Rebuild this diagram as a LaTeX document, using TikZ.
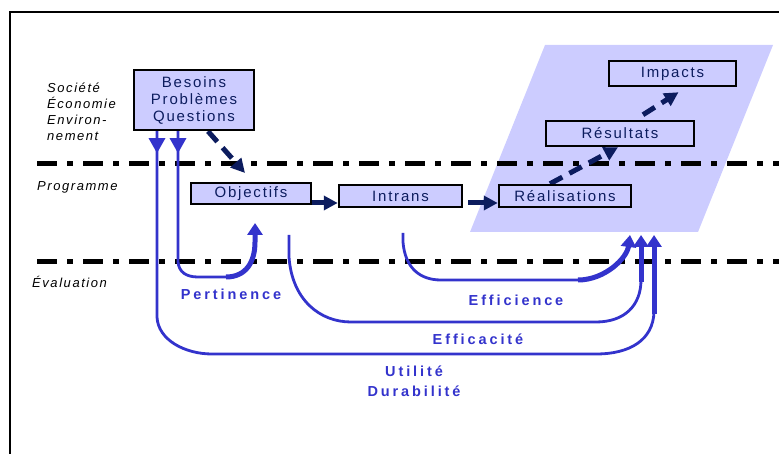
\documentclass[tikz,border=0pt]{standalone}
\usepackage{fontspec}
\setmainfont{Liberation Sans}
\newfontfamily\boitefont[LetterSpace=12]{Liberation Sans}
\newfontfamily\etiqfont[LetterSpace=20]{Liberation Sans}
\usetikzlibrary{arrows.meta,positioning}
\pgfdeclarelayer{fond}
\pgfdeclarelayer{arriere}
\pgfsetlayers{fond,arriere,main}
\definecolor{lavande}{HTML}{CCCCFF}
\definecolor{bleu}{HTML}{3333CC}
\definecolor{marine}{HTML}{0C1C5E}
\tikzset{
  boite/.style={draw=black,line width=2.5pt,fill=lavande,text=marine,
    font=\boitefont\fontsize{15}{17}\selectfont,inner sep=0pt,align=center},
  pointille/.style={line width=5pt,dash pattern=on 20pt off 10pt on 6pt off 10pt},
  flux/.style={marine,line width=5pt,-{Triangle[length=14pt,width=14pt]}},
  fluxpt/.style={flux,dash pattern=on 14pt off 8pt},
  lien/.style={bleu,line width=2.8pt},
  fleche/.style={bleu,line width=5pt,-{Triangle[length=12pt,width=15pt]}},
  niveau/.style={font=\boitefont\itshape\fontsize{13}{16}\selectfont,anchor=north west,align=left,inner sep=0pt},
  critere/.style={bleu,font=\etiqfont\bfseries\fontsize{14.5}{20}\selectfont,align=center}
}

\begin{document}
\begin{tikzpicture}[x=1pt,y=-1pt]
\useasboundingbox (0,0) rectangle (779,454);
% cadre
\draw[line width=2pt] (779,12) -- (10,12) -- (10,454);

% boites
\node[boite,minimum width=120pt,minimum height=60pt] (besoins) at (194,100) {Besoins\\Problèmes\\Questions};
\node[boite,minimum width=120pt,minimum height=21pt] (objectifs) at (251,193.5) {Objectifs};
\node[boite,minimum width=123pt,minimum height=22pt] (intrans) at (400.5,196) {Intrans};
\node[boite,minimum width=132pt,minimum height=22pt] (realisations) at (565,196) {Réalisations};
\node[boite,minimum width=148pt,minimum height=25pt] (resultats) at (620,133.5) {Résultats};
\node[boite,minimum width=127pt,minimum height=25pt] (impacts) at (672.5,73.5) {Impacts};

% niveaux
\node[niveau] (societe) at (47,83) {Société\\Économie\\Environ-\\nement};
\node[niveau,anchor=west] (programme) at (37,187) {Programme};
\node[niveau,anchor=west] (evaluation) at (32,282) {Évaluation};

% criteres
\node[critere] (pertinence) at (231,294) {Pertinence};
\node[critere] (efficience) at (516,300) {Efficience};
\node[critere] (efficacite) at (478,339) {Efficacité};
\node[critere] (utilite) at (414,381) {Utilité\\Durabilité};

% extremites libres
\coordinate (obj-haut) at (245,173);
\coordinate (pert-fin) at (255,223);
\coordinate (effic-debut) at (403,233);
\coordinate (effica-debut) at (289,235);
\coordinate (effic-fin) at (630,235);
\coordinate (effica-fin) at (641,235);
\coordinate (util-fin) at (654,235);

\begin{pgfonlayer}{fond}
\fill[lavande] (545,45) -- (773,45) -- (698,232) -- (470,232) -- cycle;
\draw[pointille] (37,164) -- (779,164);
\draw[pointille] (37,262) -- (779,262);
\end{pgfonlayer}

\begin{pgfonlayer}{arriere}
\draw[fluxpt] ([xshift=14pt]besoins.south) -- (obj-haut);
\draw[flux] ([yshift=-9.5pt]objectifs.east) -- ([yshift=-7pt]intrans.west);
\draw[flux] ([xshift=5pt,yshift=-7pt]intrans.east) -- ([yshift=-7pt]realisations.west);
\draw[fluxpt] ([xshift=-15pt]realisations.north) -- ([xshift=-2pt]resultats.south);
\draw[fluxpt] ([xshift=23pt,yshift=5pt]resultats.north) -- ([xshift=6pt,yshift=-5pt]impacts.south);
\end{pgfonlayer}

% pertinence
\draw[lien,-{Triangle[length=15pt,width=16pt]}] ([xshift=-16pt]besoins.south) -- ++(0,22);
\draw[lien] ([xshift=-16pt]besoins.south) -- (178,262) .. controls (179,272) and (186,277) .. (198,277) -- (232,277);
\draw[fleche] (226,277) .. controls (246,277) and (255,262) .. (255,242) -- (pert-fin);

% utilite
\draw[lien,-{Triangle[length=15pt,width=16pt]}] ([xshift=-37pt]besoins.south) -- ++(0,22);
\draw[lien] ([xshift=-37pt]besoins.south) -- (157,317) .. controls (158,340) and (185,354) .. (212,354) -- (596,354) .. controls (630,354) and (653,340) .. (654,312);
\draw[fleche] (654,314) -- (util-fin);

% efficacite
\draw[lien] (effica-debut) -- (289,257) .. controls (292,300) and (320,322) .. (351,322) -- (596,322) .. controls (625,322) and (641,305) .. (641,280);
\draw[fleche] (641,282) -- (effica-fin);

% efficience
\draw[lien] (effic-debut) -- (403,242) .. controls (405,268) and (420,280) .. (441,280) -- (584,280);
\draw[fleche] (578,280) .. controls (605,280) and (627,258) .. (effic-fin);
\end{tikzpicture}
\end{document}
